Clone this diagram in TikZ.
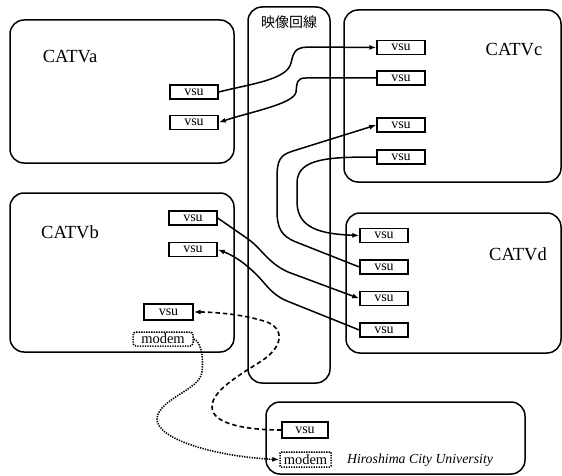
\documentclass[tikz,border=0pt]{standalone}
\usepackage{fontspec}
\setmainfont{Liberation Serif}
\newfontfamily\cjk{Noto Sans CJK JP}
\usetikzlibrary{arrows.meta}
\newcommand{\lowtxt}[1]{\raisebox{-1.8pt}{#1}}
\begin{document}
\begin{tikzpicture}[x=1pt,y=-1pt,
  line width=1.5pt,
  region/.style={draw,line width=1.5pt,rounded corners=14pt},
  vsubox/.style={draw,line width=1.4pt,minimum width=48pt,minimum height=14pt,inner sep=0pt,font=\fontsize{14}{14}\selectfont},
  modembox/.style={draw,line width=1.5pt,dash pattern=on 1.3pt off 1.2pt,rounded corners=3pt,minimum width=58pt,minimum height=14pt,inner sep=0pt,font=\fontsize{14.5}{14.5}\selectfont},
  title/.style={font=\fontsize{18.5}{18.5}\selectfont},
  link/.style={line width=1.5pt,-{Latex[length=7pt,width=5pt]}},
  dlink/.style={line width=1.6pt,dash pattern=on 4.5pt off 3pt,-{Latex[length=7pt,width=5pt]}},
  olink/.style={line width=1.6pt,dash pattern=on 1.3pt off 1.2pt,-{Latex[length=7pt,width=5pt]}}]
\useasboundingbox (0,0) rectangle (562,476);
% regions
\draw[region] (10,20) rectangle (234,163);
\draw[region] (10,193) rectangle (234,352);
\draw[region] (248,7) rectangle (330,383);
\draw[region] (344,10) rectangle (561,182);
\draw[region] (346,213) rectangle (561,353);
\draw[region] (266,402) rectangle (525,474);
% titles
\node[title] (ta) at (70,57) {CATVa};
\node[title] (tb) at (70,232) {CATVb};
\node[title] (tc) at (514,50) {CATVc};
\node[title] (td) at (518,254) {CATVd};
\node[font=\cjk\fontsize{14}{14}\selectfont] (tl) at (289,22) {映像回線};
\node[font=\itshape\fontsize{13.8}{13.8}\selectfont,anchor=west] (tu) at (343,460) {Hiroshima City University};
% vsu boxes
\node[vsubox] (a1) at (194,92) {\lowtxt{vsu}};
\node[vsubox] (a2) at (194,122.5) {\lowtxt{vsu}};
\node[vsubox] (c1) at (401,47.5) {\lowtxt{vsu}};
\node[vsubox] (c2) at (401,78) {\lowtxt{vsu}};
\node[vsubox] (c3) at (401,125) {\lowtxt{vsu}};
\node[vsubox] (c4) at (401,157) {\lowtxt{vsu}};
\node[vsubox] (b1) at (193,218) {\lowtxt{vsu}};
\node[vsubox] (b2) at (193,249.5) {\lowtxt{vsu}};
\node[vsubox,minimum width=49pt,minimum height=16pt] (b3) at (168.5,312) {\lowtxt{vsu}};
\node[modembox,minimum width=60pt] (bm) at (163,339) {modem};
\node[vsubox] (d1) at (384,235.5) {\lowtxt{vsu}};
\node[vsubox] (d2) at (384,267) {\lowtxt{vsu}};
\node[vsubox] (d3) at (384,298.5) {\lowtxt{vsu}};
\node[vsubox] (d4) at (384,330) {\lowtxt{vsu}};
\node[vsubox,minimum width=46pt,minimum height=16pt] (h1) at (305,430) {\lowtxt{vsu}};
\node[modembox,minimum width=51pt,minimum height=15pt,rounded corners=1pt] (hm) at (305.5,459.5) {modem};
% links
\draw[link] (a1.east) .. controls (250,84) and (287,80) .. (291,63)
  .. controls (294,49) and (297,47) .. (312,47) -- (c1.west);
\draw[link] (c2.west) -- (306,78) .. controls (297,78) and (297,82) .. (296,92)
  .. controls (294,104) and (250,112) .. (a2.east);
\draw[link] (c4.west) .. controls (330,157) and (298,158) .. (297,182) -- (297,203)
  .. controls (298,228) and (320,234) .. (d1.west);
\draw[link] (d2.west) -- (296,242) .. controls (281,236) and (277,228) .. (277,210) -- (277,178)
  .. controls (277,160) and (280,155) .. (293,151) -- (c3.west);
\draw[link] (b1.east) -- (248,239) .. controls (262,249) and (268,263) .. (288,272) -- (d3.west);
\draw[link] (d4.west) -- (292,303) .. controls (278,298) and (272,292) .. (265,284)
  .. controls (255,272) and (240,258) .. (b2.east);
\draw[dlink] (h1.west) .. controls (250,430) and (212,425) .. (212,407)
  .. controls (212,390) and (240,375) .. (263,360)
  .. controls (285,345) and (285,325) .. (260,320)
  .. controls (240,314) and (212,312) .. (b3.east);
\draw[olink] (bm.east) .. controls (200,341) and (204,355) .. (202,372)
  .. controls (200,390) and (160,398) .. (157,418)
  .. controls (155,440) and (220,457) .. (hm.west);
\end{tikzpicture}
\end{document}
